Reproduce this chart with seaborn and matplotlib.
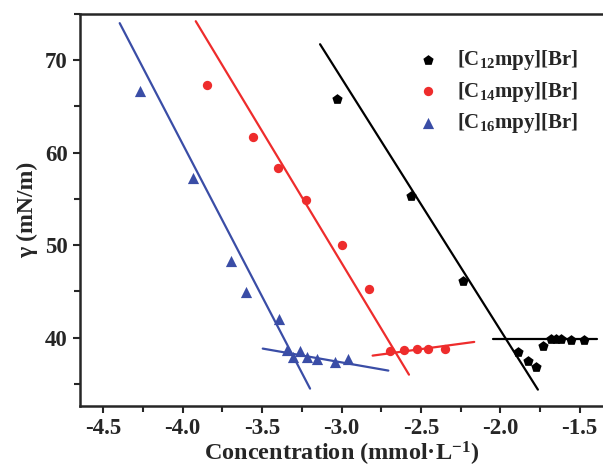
import pandas as pd
import seaborn as sns
import matplotlib.pyplot as plt
from matplotlib.ticker import MultipleLocator

# data: log concentration vs surface tension
c12_x = [-3.026, -2.564, -2.233, -1.887, -1.827, -1.775, -1.729, -1.683, -1.649, -1.618, -1.555, -1.475]
c12_y = [65.85, 55.30, 46.10, 38.45, 37.43, 36.78, 39.06, 39.89, 39.89, 39.89, 39.78, 39.78]
c14_x = [-3.845, -3.559, -3.398, -3.224, -2.999, -2.825, -2.695, -2.605, -2.523, -2.453, -2.348]
c14_y = [67.32, 61.74, 58.30, 54.87, 50.00, 45.27, 38.59, 38.70, 38.77, 38.77, 38.81]
c16_x = [-4.269, -3.937, -3.698, -3.603, -3.394, -3.345, -3.304, -3.261, -3.219, -3.152, -3.043, -2.957]
c16_y = [66.68, 57.22, 48.26, 44.95, 42.06, 38.62, 37.91, 38.51, 37.87, 37.73, 37.40, 37.73]

# fitted lines (end points)
c12_fit = [([-3.135, -1.763], [71.73, 34.37]), ([-2.048, -1.393], [39.89, 39.89])]
c14_fit = [([-3.918, -2.575], [74.22, 35.99]), ([-2.804, -2.164], [38.05, 39.53])]
c16_fit = [([-4.397, -3.198], [74.01, 34.48]), ([-3.496, -2.705], [38.81, 36.43])]

names = ['[C$_{12}$mpy][Br]', '[C$_{14}$mpy][Br]', '[C$_{16}$mpy][Br]']
colors = ['#000000', '#EE2C2C', '#3A4DA6']
markers = ['p', 'o', '^']
sizes = [60, 45, 65]

sns.set_style('ticks')
plt.rcParams['font.family'] = ['Liberation Serif', 'DejaVu Serif']
plt.rcParams['font.weight'] = 'bold'
plt.rcParams['axes.unicode_minus'] = False
plt.rcParams['mathtext.fontset'] = 'custom'
plt.rcParams['mathtext.rm'] = 'Liberation Serif:bold'
plt.rcParams['mathtext.it'] = 'Liberation Serif:bold'
plt.rcParams['mathtext.bf'] = 'Liberation Serif:bold'

fig = plt.figure(figsize=(6.03, 4.69), dpi=100)
ax = fig.add_axes([80 / 603, 1 - 406 / 469, 1 - 80 / 603, (406 - 14) / 469])

series = [(c12_x, c12_y, c12_fit), (c14_x, c14_y, c14_fit), (c16_x, c16_y, c16_fit)]
for (xs, ys, fits), name, col, mk, sz in zip(series, names, colors, markers, sizes):
    df = pd.DataFrame({'x': xs, 'y': ys})
    sns.scatterplot(data=df, x='x', y='y', color=col, marker=mk, s=sz,
                    linewidth=0, label=name, ax=ax, zorder=3)
    for fx, fy in fits:
        sns.lineplot(x=fx, y=fy, color=col, lw=1.6, ax=ax, legend=False, zorder=2)

ax.set_xlim(-4.647, -1.353)
ax.set_ylim(32.6, 75)
ax.xaxis.set_major_locator(MultipleLocator(0.5))
ax.xaxis.set_minor_locator(MultipleLocator(0.25))
ax.yaxis.set_minor_locator(MultipleLocator(5))
ax.set_yticks([40, 50, 60, 70])
ax.tick_params(which='both', direction='out', width=1.5, labelsize=16.5)
ax.tick_params(which='major', length=5, pad=4)
ax.tick_params(which='minor', length=4)
for s in ['left', 'bottom', 'top']:
    ax.spines[s].set_linewidth(1.8)
ax.spines['right'].set_visible(False)

ax.set_xlabel('Concentration (mmol·L$^{-1}$)', fontsize=17.5, fontweight='bold', labelpad=0)
ax.set_ylabel('γ (mN/m)', fontsize=17, fontweight='bold', labelpad=5)

ax.legend(loc='upper left', bbox_to_anchor=(0.606, 0.96), frameon=False,
          fontsize=15, handletextpad=0.8, labelspacing=0.35, handlelength=1.2)

fig.savefig('out.png', dpi=100)
